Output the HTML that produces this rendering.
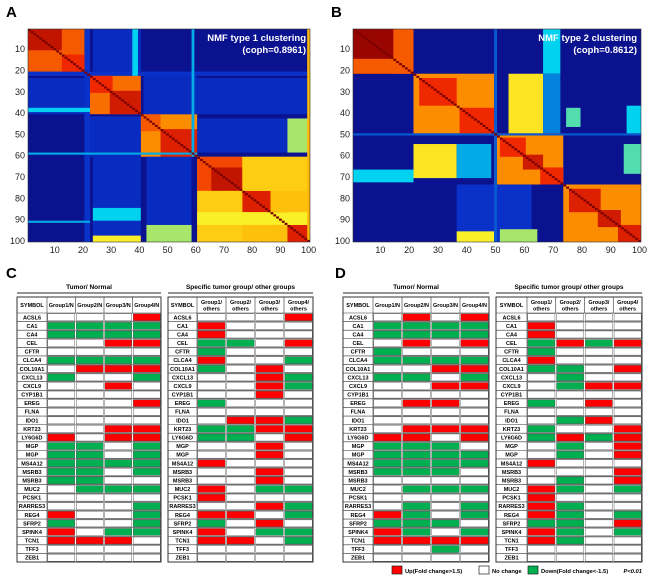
<!DOCTYPE html>
<html><head><meta charset="utf-8"><style>
body{margin:0;background:#fff;}
svg{display:block;font-family:"Liberation Sans",Arial,sans-serif;}
</style></head><body>
<svg id="fig" width="650" height="583" viewBox="0 0 650 583" xmlns="http://www.w3.org/2000/svg">
<text x="6" y="17" font-size="15" font-weight="bold">A</text>
<text x="331" y="17" font-size="15" font-weight="bold">B</text>
<text x="6" y="278" font-size="15" font-weight="bold">C</text>
<text x="335" y="278" font-size="15" font-weight="bold">D</text>
<g id="heatA"></g><g id="heatB"></g><g id="tables"></g><g id="legend"></g>
</svg>
<script>
// ---------- heatmap data (cluster blocks, indices 1..100) ----------
const ticks = [10,20,30,40,50,60,70,80,90,100];
// blocks: [rowStart,rowEnd,colStart,colEnd,value 0..1]
const blocksA = [
 [21,22,1,100,0.25],[1,100,21,22,0.25],
 [1,20,24,40,0.22],[24,40,1,20,0.22],[38,39,1,22,0.45],[1,22,38,39,0.45],
 [1,20,1,20,0.8],[1,10,1,12,0.92],[13,20,13,20,0.85],
 [23,40,23,40,0.78],[30,40,30,40,0.9],[23,30,23,30,0.85],
 [41,60,41,60,0.75],[48,60,48,60,0.88],[41,48,41,47,0.8],
 [23,40,42,60,0.22],[42,60,23,40,0.22],[59,59,1,60,0.4],[1,60,59,59,0.4],
 [61,100,24,40,0.22],[24,40,61,100,0.22],[61,100,43,58,0.22],[43,58,61,100,0.22],
 [85,90,24,40,0.45],[93,100,43,58,0.55],[43,58,93,100,0.55],[98,100,24,40,0.6],
 [61,100,61,100,0.68],[61,76,61,76,0.82],[66,76,66,76,0.92],[77,86,77,86,0.88],
 [87,92,87,92,0.9],[93,100,93,100,0.88],[61,76,77,100,0.66],[77,100,61,76,0.66],[87,92,61,100,0.6],
 [91,91,1,22,0.4],[1,100,100,100,0.7]
];
const blocksB = [
 [1,21,1,21,0.93],[1,14,1,14,0.98],[15,21,1,21,0.8],[1,21,15,21,0.8],
 [1,21,67,72,0.45],[67,72,1,21,0.45],[22,49,22,49,0.75],[24,36,24,36,0.85],[38,49,38,49,0.85],
 [22,49,55,66,0.62],[55,70,22,36,0.62],[55,70,37,48,0.4],[22,49,67,72,0.35],
 [50,73,50,73,0.75],[52,60,52,60,0.85],[60,66,60,66,0.9],[66,73,66,73,0.85],
 [74,100,74,100,0.75],[76,86,76,86,0.88],[86,93,86,93,0.9],[93,100,93,100,0.88],
 [74,100,37,49,0.25],[96,100,37,49,0.6],[37,49,96,100,0.45],[74,100,50,62,0.25],[95,100,52,64,0.55],
 [38,46,75,79,0.5],[55,68,95,100,0.5],[50,50,1,100,0.3],[1,100,50,50,0.3]
];
function jet(v){
  const stops=[[0,[0,0,130]],[0.25,[10,50,200]],[0.45,[0,210,240]],[0.6,[250,240,40]],[0.72,[255,170,0]],[0.85,[240,40,0]],[1,[140,0,0]]];
  for(let i=1;i<stops.length;i++){ if(v<=stops[i][0]){const a=stops[i-1],b=stops[i];const t=(v-a[0])/(b[0]-a[0]);
    const c=a[1].map((x,k)=>Math.round(x+(b[1][k]-x)*t));return `rgb(${c})`;}}
  return 'rgb(140,0,0)';
}
const NS='http://www.w3.org/2000/svg';
function mk(tag,attrs,parent){const e=document.createElementNS(NS,tag);for(const k in attrs)e.setAttribute(k,attrs[k]);parent.appendChild(e);return e;}
function drawHeat(gid,x0,x1,y0,y1,blocks,title,coph,key){
  const g=document.getElementById(gid);
  const sx=i=>x0+(i-1)*(x1-x0)/100, sy=i=>y0+(i-1)*(y1-y0)/100;
  const bg=mk('rect',{x:x0,y:y0,width:x1-x0,height:y1-y0,fill:'#0a1290'},g);
  
  
  blocks.forEach(b=>{
    const r=mk('rect',{x:sx(b[2]),y:sy(b[0]),width:sx(b[3]+1)-sx(b[2]),height:sy(b[1]+1)-sy(b[0]),fill:jet(b[4])},g);
    
    
  });
  for(let i=1;i<=100;i++){
    const d=mk('rect',{x:sx(i),y:sy(i),width:(x1-x0)/100,height:(y1-y0)/100,fill:'#7a0000'},g);
    
    
  }
  const fr=mk('rect',{x:x0,y:y0,width:x1-x0,height:y1-y0,fill:'none',stroke:'#333','stroke-width':0.6},g);
  
  
  ticks.forEach(t=>{
    const cy=sy(t)+(y1-y0)/200, cx=sx(t)+(x1-x0)/200;
    const ly=mk('text',{x:x0-3,y:cy+3,'font-size':9,'text-anchor':'end',fill:'#222'},g);ly.textContent=t;
    
    
    const lx=mk('text',{x:cx,y:y1+11,'font-size':9,'text-anchor':'middle',fill:'#222'},g);lx.textContent=t;
    
    
  });
  const t1=mk('text',{x:x1-4,y:y0+12,'font-size':9.5,'font-weight':'bold','text-anchor':'end',fill:'#fff'},g);t1.textContent=title;
  
  
  const t2=mk('text',{x:x1-4,y:y0+24,'font-size':9.5,'font-weight':'bold','text-anchor':'end',fill:'#fff'},g);t2.textContent=coph;
  
  
}
drawHeat('heatA',28,310,29,242,blocksA,'NMF type 1 clustering','(coph=0.8961)','a');
drawHeat('heatB',353,641,29,242,blocksB,'NMF type 2 clustering','(coph=0.8612)','b');

// ---------- tables ----------
const genes=['ACSL6','CA1','CA4','CEL','CFTR','CLCA4','COL10A1','CXCL13','CXCL9','CYP1B1','EREG','FLNA','IDO1','KRT23','LY6G6D','MGP','MGP','MS4A12','MSRB3','MSRB3','MUC2','PCSK1','RARRES3','REG4','SFRP2','SPINK4','TCN1','TFF3','ZEB1'];
const tnHeaders=['Group1/N','Group2/N','Group3/N','Group4/N'];
const otHeaders=['Group1/','Group2/','Group3/','Group4/'];
const cLeft=['wwwr','gggg','gggg','wwrr','wwww','gggg','wrrr','gwwg','wwrw','wwww','wwwr','wwww','wwww','wwrr','rwrr','ggwg','ggwg','gggg','ggwg','ggww','wggg','wwww','wwwg','rwwg','gwwg','rwgg','rrrw','wwww','wwww'];
const cRight=['wwwr','rwww','rwww','ggwr','gwww','rwwg','gwrw','wwrg','wwrg','wwrw','gwww','wwww','wrrg','ggrr','ggwr','wwrw','wwrw','rwww','wwrw','wwrw','rwgg','rwww','wwrg','rrwg','gwrw','rwgg','rrwg','wwww','wwww'];
const dLeft=['wrwr','gggg','gggg','wrwr','gwww','gggg','wwrr','ggwg','wwrr','wwww','wrrw','wwww','wwww','wrrr','rrwr','gggw','gggg','gggg','gggw','wwww','wggg','wwww','wgwg','rgwg','gggw','rgwg','rrrr','wwgw','wwww'];
const dRight=['wwww','rwww','rwww','grgr','gwww','rwww','ggwr','wgww','wgrr','wwww','gwrw','wwww','wgrw','gwwr','grgr','wgwr','wgwr','rwww','wwwr','wgwr','rgwg','rwww','rgww','rgwg','ggwr','rgwg','rgww','wwww','wwww'];
const colorMap={r:'#ff0000',g:'#00b050',w:'#ffffff'};
const tg=document.getElementById('tables');
function drawTable(x0,xs,x1,data,headers,twoLine,title,key){
  const yT=297,yH=313,yB=562,rh=(yB-yH)/genes.length,cw=(x1-xs)/4;
  const tt=mk('text',{x:(x0+x1)/2,y:289,'font-size':6.5,'font-weight':'bold','text-anchor':'middle'},tg);tt.textContent=title;
  
  
  const ul=mk('line',{x1:x0,x2:x1,y1:293,y2:293,stroke:'#555','stroke-width':1.2},tg);
  
  
  const sh=mk('text',{x:(x0+xs)/2,y:(yT+yH)/2+2,'font-size':5.5,'font-weight':'bold','text-anchor':'middle'},tg);sh.textContent='SYMBOL';
  
  
  headers.forEach((h,j)=>{
    const cx=xs+cw*(j+0.5);
    const ht=mk('text',{x:cx,y:twoLine?yT+7:(yT+yH)/2+2,'font-size':5.5,'font-weight':'bold','text-anchor':'middle'},tg);ht.textContent=h;
    
    
    if(twoLine){const h2=mk('text',{x:cx,y:yT+13.5,'font-size':5.5,'font-weight':'bold','text-anchor':'middle'},tg);h2.textContent='others';
      
      }
  });
  genes.forEach((gname,i)=>{
    const y=yH+i*rh;
    const gt=mk('text',{x:(x0+xs)/2,y:y+rh/2+2,'font-size':5.5,'font-weight':'bold','text-anchor':'middle'},tg);gt.textContent=gname;
    
    
    for(let j=0;j<4;j++){
      const c=mk('rect',{x:xs+j*cw+0.8,y:y+0.8,width:cw-1.6,height:rh-1.6,fill:colorMap[data[i][j]],stroke:'#444','stroke-width':0.4},tg);
      
      
    }
    mk('line',{x1:x0,x2:x1,y1:y,y2:y,stroke:'#333','stroke-width':0.6},tg);
  });
  const fr=mk('rect',{x:x0,y:yT,width:x1-x0,height:yB-yT,fill:'none',stroke:'#333','stroke-width':1},tg);
  
  
  mk('line',{x1:xs,x2:xs,y1:yT,y2:yB,stroke:'#333','stroke-width':0.6},tg);
  for(let j=1;j<4;j++)mk('line',{x1:xs+j*cw,x2:xs+j*cw,y1:yT,y2:yH,stroke:'#333','stroke-width':0.6},tg);
}
drawTable(17,47,161,cLeft,tnHeaders,false,'Tumor/ Normal','table-c-tumor-normal');
drawTable(168,197,313,cRight,otHeaders,true,'Specific tumor group/ other groups','table-c-specific');
drawTable(343,373,489,dLeft,tnHeaders,false,'Tumor/ Normal','table-d-tumor-normal');
drawTable(496,527,642,dRight,otHeaders,true,'Specific tumor group/ other groups','table-d-specific');

// ---------- legend ----------
const lg=document.getElementById('legend');
const legItems=[[392,'#ff0000','Up(Fold change>1.5)'],[479,'#ffffff','No change'],[528,'#00b050','Down(Fold change<-1.5)']];
legItems.forEach(it=>{
  const r=mk('rect',{x:it[0],y:566,width:10,height:8,fill:it[1],stroke:'#222','stroke-width':0.7},lg);
  
  
  const t=mk('text',{x:it[0]+13,y:573,'font-size':5.8,'font-weight':'bold'},lg);t.textContent=it[2];
  
  
});
const pv=mk('text',{x:642,y:573,'font-size':5.8,'font-weight':'bold','font-style':'italic','text-anchor':'end'},lg);pv.textContent='P<0.01';


</script>
</body></html>
